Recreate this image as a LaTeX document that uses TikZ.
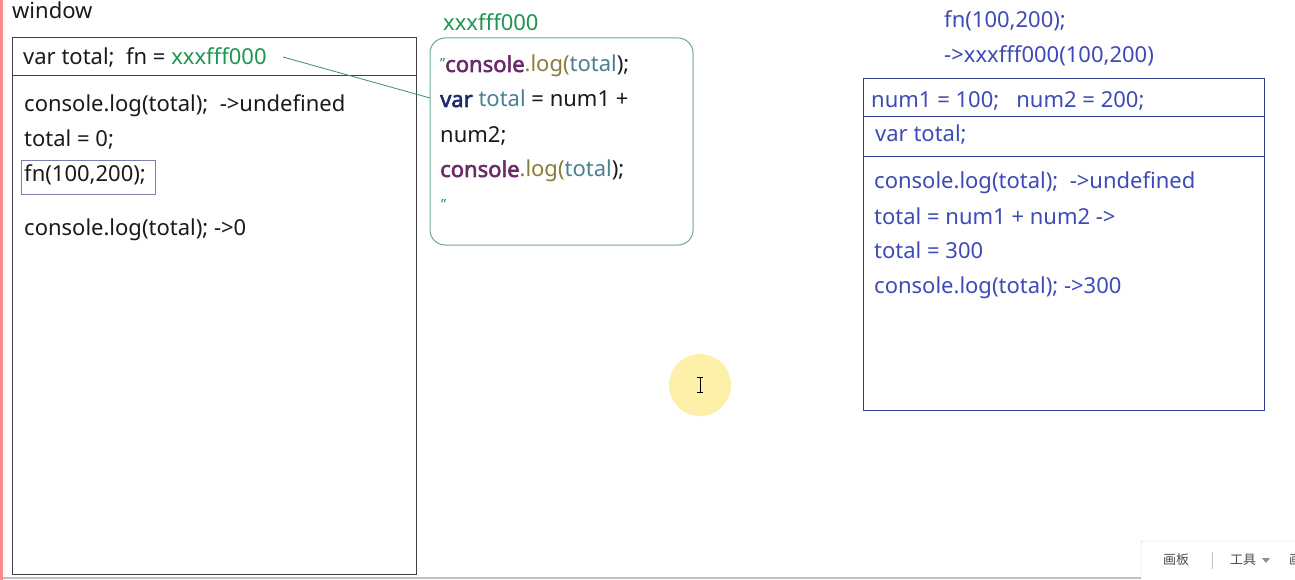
\documentclass[tikz,border=0pt]{standalone}
\usepackage{fontspec}
\setmainfont{Noto Sans}[AutoFakeBold=2.5]
\newfontfamily\cjk{Noto Sans CJK SC}
\definecolor{txt}{HTML}{1A1A1A}
\definecolor{grn}{HTML}{1E9650}
\definecolor{blu}{HTML}{3D4BB6}
\definecolor{tealb}{HTML}{6AAA9A}
\definecolor{purp}{HTML}{6A2A6A}
\definecolor{oliv}{HTML}{8A7D3A}
\definecolor{tealt}{HTML}{4A8090}
\definecolor{navy}{HTML}{1A2A6A}
\definecolor{fnb}{HTML}{7A80B0}
\definecolor{linec}{HTML}{3A8A8A}
\definecolor{hl}{HTML}{FDF0A0}
\tikzset{
  lbl/.style={anchor=base west, inner sep=0pt, font=\fontsize{22}{26}\selectfont, text=txt},
  blbl/.style={lbl, text=blu},
  frame/.style={draw=black!75, line width=1pt},
  bframe/.style={draw=blu!80!black, line width=0.8pt},
  tbtxt/.style={inner sep=0pt, font=\cjk\fontsize{13}{15}\selectfont, text=black!70},
}
\begin{document}
\begin{tikzpicture}[x=1pt,y=-1pt]
\useasboundingbox (0,0) rectangle (1295,580);
\fill[white] (0,0) rectangle (1295,580);
% screen edges
\fill[red!45] (0,0) rectangle (3,580);
\draw[black!25, line width=1.5pt] (3,578) -- (1141,578);

% ---------- left: window ----------
\node[lbl] (win) at (12,19) {window};
\draw[frame] (12,38) rectangle (416,574);
\draw[frame] (12,76) -- (416,76);
\node[lbl] (hdr) at (23,65) {var total;\ \ fn = \textcolor{grn}{xxxfff000}};
\coordinate (lstart) at (283,57);
\node[lbl] (l1) at (24,112) {console.log(total);\ \ ->undefined};
\node[lbl] (l2) at (24,147) {total = 0;};
\node[draw=fnb, line width=0.8pt, anchor=north west, minimum width=134pt, minimum height=34pt, inner sep=0pt] (fnbox) at (21,160) {};
\node[lbl] (l3) at (24,182) {fn(100,200);};
\node[lbl] (l4) at (24,235) {console.log(total); ->0};

% ---------- middle: function heap ----------
\node[lbl, text=grn] (addr) at (443,31) {xxxfff000};
\draw[draw=tealb, line width=1pt, rounded corners=15pt] (430,38) rectangle (693,245);
\node[lbl] (m1) at (440,72) {\textcolor{grn}{\fontsize{14}{16}\selectfont\raisebox{3pt}{"}}\textcolor{purp}{\bfseries console}\textcolor{oliv}{.log(}\textcolor{tealt}{total}\textcolor{txt}{);}};
\node[lbl] (m2) at (440,107) {\textcolor{navy}{\bfseries var} \textcolor{tealt}{total} = num1 +};
\node[lbl] (m3) at (440,143) {num2;};
\node[lbl] (m4) at (440,177) {\textcolor{purp}{\bfseries console}\textcolor{oliv}{.log(}\textcolor{tealt}{total}\textcolor{txt}{);}};
\node[lbl, text=grn, font=\fontsize{14}{16}\selectfont] (m5) at (441,210) {"};
\coordinate (lend) at (430,98);
\draw[linec, line width=0.8pt] (lstart) -- (lend);

% ---------- right: execution ----------
\node[blbl] (r0) at (944,28) {fn(100,200);};
\node[blbl] (r00) at (944,63) {->xxxfff000(100,200)};
\draw[bframe] (863,78) rectangle (1264,410);
\draw[bframe] (863,116) -- (1264,116);
\draw[bframe] (863,156) -- (1264,156);
\node[blbl] (r1) at (871,108) {num1 = 100;\ \ \ num2 = 200;};
\node[blbl] (r2) at (875,142) {var total;};
\node[blbl] (r3) at (874,189) {console.log(total);\ \ ->undefined};
\node[blbl] (r4) at (874,224) {total = num1 + num2 ->};
\node[blbl] (r5) at (874,258) {total = 300};
\node[blbl] (r6) at (874,293) {console.log(total); ->300};

% ---------- cursor highlight ----------
\fill[hl, opacity=0.9] (700,385) circle (31pt);
\draw[black, line width=0.8pt] (700,377) -- (700,392) (697,377) -- (703,377) (697,392) -- (703,392);

% ---------- toolbar ----------
\begin{scope}
\clip (0,0) rectangle (1295,580);
\draw[black!20, fill=white, rounded corners=3pt] (1141,541) rectangle (1310,590);
\node[tbtxt, anchor=center] (tb1) at (1176,560) {画板};
\draw[black!25] (1212,552) -- (1212,569);
\node[tbtxt, anchor=center] (tb2) at (1243,560) {工具};
\fill[black!45] (1262,558) -- (1270,558) -- (1266,563) -- cycle;
\node[tbtxt, anchor=west] (tb3) at (1289,560) {画};
\end{scope}
\end{tikzpicture}
\end{document}
